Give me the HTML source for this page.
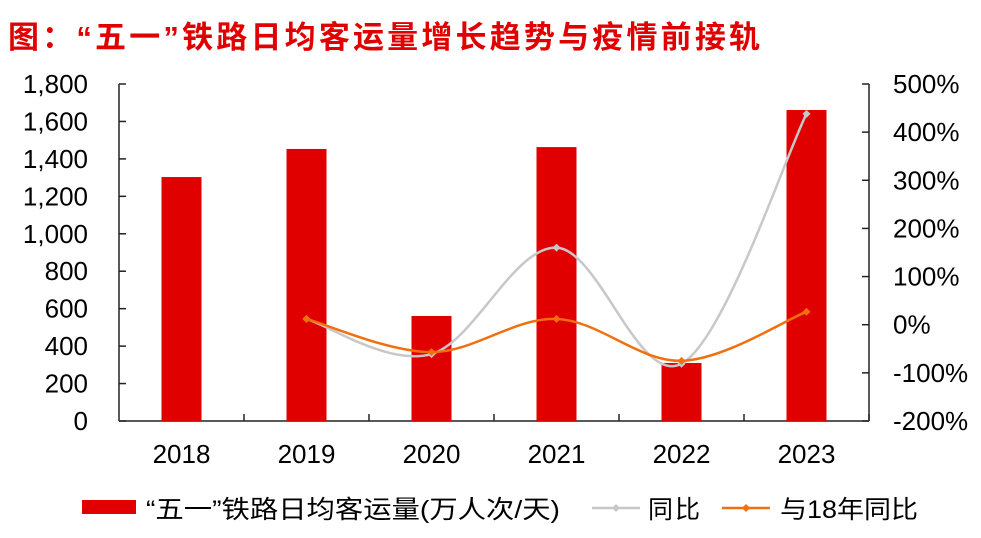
<!DOCTYPE html>
<html><head><meta charset="utf-8"><style>
body{margin:0;background:#fff;width:981px;height:533px;overflow:hidden;font-family:"Liberation Sans","Noto Sans CJK SC",sans-serif}
</style></head><body>
<svg id="chart" width="981" height="533" xmlns="http://www.w3.org/2000/svg" font-family="Liberation Sans, Noto Sans CJK SC, sans-serif">
<text x="8" y="48" font-size="31" font-weight="bold" fill="#e00000" textLength="752" lengthAdjust="spacing">图：“五一”铁路日均客运量增长趋势与疫情前接轨</text>
<g id="axes"></g><g id="bars"></g><g id="lines"></g>
<g font-size="25" fill="#000">
<rect x="82" y="500" width="54" height="14" fill="#e00000"/>
<text x="146" y="518" textLength="414" lengthAdjust="spacingAndGlyphs">“五一”铁路日均客运量(万人次/天)</text>
<line x1="592" y1="508" x2="640" y2="508" stroke="#c8c8c8" stroke-width="2.5"/>
<path d="M616 504 L620 508 616 512 612 508Z" fill="#c8c8c8"/>
<text x="648" y="518" textLength="52">同比</text>
<line x1="722" y1="508" x2="770" y2="508" stroke="#f07010" stroke-width="2.5"/>
<path d="M746 504 L750 508 746 512 742 508Z" fill="#f07010"/>
<text x="780" y="518" textLength="138" lengthAdjust="spacingAndGlyphs">与18年同比</text>
</g>
</svg>
<script>
const categories=["2018","2019","2020","2021","2022","2023"];
const volume=[1303,1453,561,1463,310,1661];
const yoy=[null,12,-61,160,-81,438];
const vs2018=[null,12,-57,12,-75,27];
const leftTicks=[0,200,400,600,800,1000,1200,1400,1600,1800];
const rightTicks=[-200,-100,0,100,200,300,400,500];
const NS="http://www.w3.org/2000/svg";
const X0=119,X1=869,Y0=421,Y1=84;
const step=(X1-X0)/categories.length;
const xc=i=>X0+step*(i+0.5);
const yl=v=>Y0-(v/1800)*(Y0-Y1);
const yr=v=>Y0-((v+200)/700)*(Y0-Y1);
function mk(t,a,p){const e=document.createElementNS(NS,t);for(const k in a)e.setAttribute(k,a[k]);p.appendChild(e);return e;}
const ax=document.getElementById('axes');
let l=mk('line',{x1:X0,y1:Y1,x2:X0,y2:Y0,stroke:'#222','stroke-width':1.5},ax);


l=mk('line',{x1:X1,y1:Y1,x2:X1,y2:Y0,stroke:'#222','stroke-width':1.5},ax);


l=mk('line',{x1:X0,y1:Y0,x2:X1,y2:Y0,stroke:'#222','stroke-width':1.5},ax);


leftTicks.forEach(v=>{const y=yl(v);mk('line',{x1:X0,y1:y,x2:X0+7,y2:y,stroke:'#222','stroke-width':1.5},ax);
const t=mk('text',{x:88,y:y+9,'text-anchor':'end','font-size':26},ax);t.textContent=v.toLocaleString('en-US');

});
rightTicks.forEach(v=>{const y=yr(v);mk('line',{x1:X1-7,y1:y,x2:X1,y2:y,stroke:'#222','stroke-width':1.5},ax);
const t=mk('text',{x:893,y:y+9,'font-size':26},ax);t.textContent=v+'%';

});
categories.forEach((c,i)=>{const x=X0+step*(i+1);mk('line',{x1:x,y1:Y0-7,x2:x,y2:Y0,stroke:'#222','stroke-width':1.5},ax);
const t=mk('text',{x:xc(i),y:463,'text-anchor':'middle','font-size':26},ax);t.textContent=c;

});
const bg=document.getElementById('bars');
volume.forEach((v,i)=>{const r=mk('rect',{x:xc(i)-20,y:yl(v),width:40,height:Y0-yl(v),fill:'#e00000'},bg);

});
const lg=document.getElementById('lines');
function series(data,color,name){
const pts=[];data.forEach((v,i)=>{if(v!==null)pts.push([xc(i),yr(v)]);});
let d='M'+pts[0][0]+' '+pts[0][1];
for(let i=0;i<pts.length-1;i++){const p0=pts[Math.max(0,i-1)],p1=pts[i],p2=pts[i+1],p3=pts[Math.min(pts.length-1,i+2)];
const k=0.34;
d+=` C${p1[0]+(p2[0]-p0[0])*k/2} ${p1[1]+(p2[1]-p0[1])*k/2} ${p2[0]-(p3[0]-p1[0])*k/2} ${p2[1]-(p3[1]-p1[1])*k/2} ${p2[0]} ${p2[1]}`;}
const p=mk('path',{d:d,fill:'none',stroke:color,'stroke-width':2.5},lg);


pts.forEach(q=>{const m=mk('path',{d:`M${q[0]} ${q[1]-4}L${q[0]+4} ${q[1]}L${q[0]} ${q[1]+4}L${q[0]-4} ${q[1]}Z`,fill:color},lg);

});}
series(yoy,'#c8c8c8','yoy');
series(vs2018,'#f07010','vs2018');
</script>
</body></html>
